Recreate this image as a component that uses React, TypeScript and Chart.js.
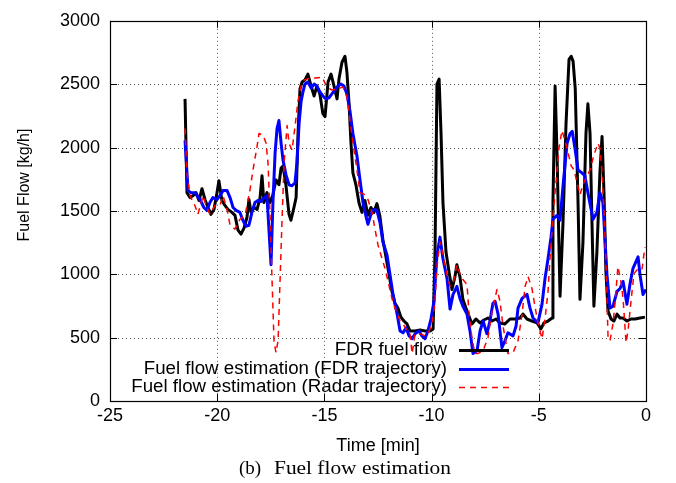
import React, { useEffect, useRef } from "react";
import { Chart, registerables } from "chart.js";

Chart.register(...registerables);

// ---- Data (time in minutes, fuel flow in kg/h) ----
const fdrTime = [
  -21.5, -21.41, -21.27, -21.13, -20.99, -20.85, -20.71, -20.57, -20.43, -20.29,
  -20.15, -20.01, -19.92, -19.78, -19.64, -19.5, -19.31, -19.17, -19.03, -18.89,
  -18.75, -18.61, -18.52, -18.42, -18.28, -18.14, -18.0, -17.91, -17.82, -17.68,
  -17.54, -17.4, -17.26, -17.12, -17.02, -16.93, -16.79, -16.65, -16.56, -16.42,
  -16.32, -16.23, -16.14, -16.04, -15.91, -15.77, -15.62, -15.48, -15.35, -15.21,
  -15.07, -14.97, -14.83, -14.69, -14.55, -14.41, -14.32, -14.18, -14.04, -13.95,
  -13.85, -13.76, -13.67, -13.53, -13.39, -13.25, -13.11, -12.97, -12.83, -12.69,
  -12.55, -12.41, -12.27, -12.13, -11.99, -11.85, -11.71, -11.57, -11.43, -11.29,
  -11.15, -11.01, -10.77, -10.54, -10.31, -10.07, -9.93, -9.84, -9.75, -9.65,
  -9.56, -9.47, -9.33, -9.19, -9.05, -8.91, -8.82, -8.68, -8.54, -8.4,
  -8.26, -8.12, -7.93, -7.74, -7.56, -7.37, -7.18, -6.99, -6.81, -6.58,
  -6.34, -6.11, -5.88, -5.74, -5.55, -5.32, -5.08, -4.9, -4.76, -4.57,
  -4.38, -4.34, -4.24, -4.15, -4.01, -3.87, -3.73, -3.59, -3.49, -3.4,
  -3.3, -3.17, -3.08, -2.94, -2.8, -2.71, -2.61, -2.52, -2.43, -2.29,
  -2.15, -2.05, -1.96, -1.87, -1.77, -1.63, -1.5, -1.35, -1.21, -1.07,
  -0.89, -0.7, -0.51, -0.28, -0.05,
];
const fdrFlow = [
  2384, 1644, 1605, 1620, 1644, 1582, 1675, 1590, 1527, 1473,
  1512, 1644, 1738, 1582, 1543, 1512, 1488, 1465, 1348, 1317,
  1364, 1450, 1590, 1488, 1527, 1512, 1605, 1777, 1566, 1644,
  1566, 1628, 1745, 1706, 1839, 1855, 1698, 1473, 1426, 1527,
  1605, 2111, 2462, 2517, 2532, 2579, 2485, 2407, 2485, 2423,
  2267, 2244, 2517, 2579, 2485, 2384, 2540, 2673, 2720, 2595,
  2345, 2034, 1800, 1706, 1566, 1488, 1582, 1465, 1527, 1488,
  1558, 1457, 1270, 1138, 1005, 865, 771, 733, 662, 631,
  608, 553, 553, 560, 553, 553, 569, 1177, 2501, 2540,
  2111, 1566, 1177, 1021, 880, 982, 1075, 982, 802, 733,
  670, 608, 647, 616, 639, 655, 631, 647, 616, 608,
  647, 647, 655, 686, 647, 631, 616, 569, 616, 631,
  655, 1566, 2485, 1956, 826, 1410, 2190, 2696, 2720, 2680,
  2462, 1566, 802, 1254, 2111, 2345, 2111, 1410, 748, 1177,
  1800, 2088, 1644, 1021, 709, 647, 631, 686, 655, 655,
  631, 647, 647, 655, 662,
];

const estFdrTime = [
  -21.5, -21.36, -21.22, -21.04, -20.8, -20.62, -20.48, -20.34, -20.2, -20.01,
  -19.87, -19.73, -19.54, -19.4, -19.26, -19.12, -18.94, -18.8, -18.66, -18.52,
  -18.38, -18.24, -18.1, -17.96, -17.82, -17.68, -17.58, -17.49, -17.4, -17.3,
  -17.21, -17.12, -17.02, -16.93, -16.79, -16.65, -16.51, -16.37, -16.28, -16.18,
  -16.09, -16.0, -15.91, -15.77, -15.62, -15.48, -15.35, -15.21, -15.07, -14.93,
  -14.79, -14.65, -14.51, -14.37, -14.23, -14.09, -13.95, -13.81, -13.67, -13.48,
  -13.34, -13.2, -13.06, -12.97, -12.83, -12.69, -12.55, -12.41, -12.27, -12.08,
  -11.94, -11.8, -11.61, -11.47, -11.33, -11.19, -11.05, -10.91, -10.77, -10.59,
  -10.45, -10.31, -10.17, -10.03, -9.89, -9.75, -9.61, -9.47, -9.28, -9.14,
  -9.0, -8.82, -8.68, -8.54, -8.35, -8.21, -8.07, -7.88, -7.74, -7.6,
  -7.42, -7.28, -7.14, -7.04, -6.9, -6.72, -6.58, -6.44, -6.2, -6.06,
  -5.97, -5.78, -5.55, -5.41, -5.27, -5.04, -4.85, -4.71, -4.57, -4.43,
  -4.34, -4.15, -4.01, -3.87, -3.68, -3.54, -3.44, -3.3, -3.17, -2.99,
  -2.85, -2.71, -2.47, -2.29, -2.15, -2.01, -1.82, -1.68, -1.54, -1.35,
  -1.21, -1.07, -0.89, -0.75, -0.61, -0.37, -0.28, -0.14, 0.0,
];
const estFdrFlow = [
  2057, 1660, 1644, 1644, 1590, 1527, 1504, 1566, 1605, 1590,
  1620, 1660, 1660, 1605, 1527, 1504, 1488, 1426, 1379, 1387,
  1488, 1566, 1582, 1574, 1605, 1620, 1332, 1075, 1566, 1956,
  2150, 2213, 2034, 1901, 1784, 1706, 1698, 1722, 1878, 2190,
  2361, 2439, 2501, 2517, 2470, 2501, 2485, 2439, 2407, 2384,
  2392, 2423, 2454, 2485, 2501, 2485, 2423, 2291, 2111, 1932,
  1745, 1566, 1457, 1395, 1473, 1512, 1504, 1410, 1254, 1153,
  997, 841, 686, 553, 538, 577, 514, 491, 530, 553,
  514, 491, 553, 647, 787, 1153, 1293, 1122, 966, 725,
  841, 904, 810, 748, 686, 553, 374, 397, 553, 631,
  530, 631, 771, 787, 686, 421, 475, 538, 514, 592,
  733, 810, 841, 733, 655, 616, 764, 966, 1122, 1293,
  1434, 1465, 1426, 1698, 2034, 2111, 2127, 1979, 1823, 1800,
  1777, 1644, 1434, 1488, 1644, 1566, 997, 733, 748, 865,
  888, 943, 764, 920, 1044, 1137, 997, 841, 880,
];

const estRadarTime = [
  -21.5, -21.41, -21.27, -21.04, -20.9, -20.66, -20.48, -20.34, -20.1, -19.87,
  -19.73, -19.54, -19.4, -19.17, -18.94, -18.7, -18.47, -18.33, -18.14, -18.05,
  -17.86, -17.72, -17.63, -17.54, -17.44, -17.35, -17.26, -17.16, -17.07, -16.98,
  -16.88, -16.74, -16.65, -16.51, -16.37, -16.23, -16.09, -15.95, -15.67, -15.39,
  -15.11, -14.88, -14.65, -14.41, -14.13, -13.95, -13.81, -13.67, -13.48, -13.34,
  -13.11, -12.97, -12.78, -12.64, -12.5, -12.31, -12.17, -12.03, -11.85, -11.71,
  -11.47, -11.33, -11.15, -11.01, -10.91, -10.77, -10.54, -10.31, -10.17, -9.98,
  -9.84, -9.75, -9.61, -9.47, -9.28, -9.14, -9.0, -8.82, -8.68, -8.54,
  -8.35, -8.26, -8.12, -7.98, -7.84, -7.6, -7.37, -7.18, -6.95, -6.81,
  -6.67, -6.44, -6.2, -5.97, -5.78, -5.64, -5.5, -5.32, -5.18, -5.04,
  -4.85, -4.71, -4.57, -4.48, -4.34, -4.2, -4.06, -3.92, -3.78, -3.63,
  -3.49, -3.35, -3.22, -3.08, -2.94, -2.75, -2.61, -2.43, -2.24, -2.15,
  -2.05, -1.96, -1.87, -1.77, -1.68, -1.54, -1.45, -1.31, -1.17, -1.07,
  -0.93, -0.84, -0.7, -0.56, -0.37, -0.19, -0.05,
];
const estRadarFlow = [
  2150, 1800, 1620, 1543, 1473, 1620, 1527, 1473, 1543, 1543,
  1620, 1512, 1387, 1356, 1434, 1465, 1667, 1823, 2010, 2111,
  2096, 2034, 1878, 1488, 943, 475, 382, 475, 943, 1410,
  1878, 2174, 2034, 1979, 2166, 2369, 2485, 2532, 2548, 2548,
  2556, 2477, 2454, 2462, 2477, 2400, 2213, 2034, 1823, 1644,
  1628, 1590, 1488, 1356, 1231, 1122, 1044, 943, 810, 733,
  631, 608, 553, 530, 374, 530, 530, 514, 530, 608,
  787, 1060, 1254, 1153, 997, 904, 927, 1075, 1005, 958,
  920, 709, 499, 374, 374, 397, 499, 709, 880, 787,
  592, 374, 382, 475, 686, 904, 982, 888, 748, 616,
  491, 647, 865, 1122, 1450, 1722, 1995, 2135, 2057, 1956,
  1855, 1823, 1722, 1628, 1706, 1777, 1823, 1940, 2034, 1995,
  1800, 1512, 1099, 499, 475, 608, 764, 1060, 943, 810,
  460, 553, 787, 1005, 1044, 1036, 1215,
];

const xTickValues = [-25, -20, -15, -10, -5, 0];
const yTickValues = [0, 500, 1000, 1500, 2000, 2500, 3000];
const seriesLabels = [
  "FDR fuel flow",
  "Fuel flow estimation (FDR trajectory)",
  "Fuel flow estimation (Radar trajectory)",
];
const xAxisTitle = "Time [min]";
const yAxisTitle = "Fuel Flow [kg/h]";
const captionLabel = "(b)";
const captionText = "Fuel flow estimation";

const SANS = '"Liberation Sans", Arial, Helvetica, sans-serif';
const SERIF = '"Liberation Serif", "Times New Roman", serif';

const toPoints = (xs: number[], ys: number[]) => xs.map((x, i) => ({ x, y: ys[i] }));

const styles = [
  { color: "#000000", width: 3, dash: [] as number[] },
  { color: "#0000ff", width: 3, dash: [] as number[] },
  { color: "#ff0000", width: 1.5, dash: [6, 5] },
];

const framePlugin = {
  id: "gnuplotFrame",
  beforeDatasetsDraw(chart: any) {
    const { ctx, chartArea: a, scales } = chart;
    const xs = scales.x;
    const ys = scales.y;
    ctx.save();
    ctx.strokeStyle = "#555";
    ctx.lineWidth = 1;
    ctx.setLineDash([1, 3]);
    xTickValues.forEach((t) => {
      const px = Math.round(xs.getPixelForValue(t)) + 0.5;
      if (px <= a.left + 1 || px >= a.right - 1) return;
      ctx.beginPath();
      ctx.moveTo(px, a.top);
      ctx.lineTo(px, a.bottom);
      ctx.stroke();
    });
    yTickValues.forEach((v) => {
      const py = Math.round(ys.getPixelForValue(v)) + 0.5;
      if (py <= a.top + 1 || py >= a.bottom - 1) return;
      ctx.beginPath();
      ctx.moveTo(a.left, py);
      ctx.lineTo(a.right, py);
      ctx.stroke();
    });
    ctx.restore();
  },
  afterDatasetsDraw(chart: any) {
    const { ctx, chartArea: a, scales } = chart;
    const xs = scales.x;
    const ys = scales.y;
    ctx.save();
    // frame
    ctx.setLineDash([]);
    ctx.strokeStyle = "#000";
    ctx.lineWidth = 1.2;
    ctx.strokeRect(Math.round(a.left) + 0.5, Math.round(a.top) + 0.5, Math.round(a.right - a.left), Math.round(a.bottom - a.top));
    // inward ticks
    const tl = 7;
    ctx.lineWidth = 1;
    xTickValues.forEach((t) => {
      const px = Math.round(xs.getPixelForValue(t)) + 0.5;
      ctx.beginPath();
      ctx.moveTo(px, a.bottom);
      ctx.lineTo(px, a.bottom - tl);
      ctx.moveTo(px, a.top);
      ctx.lineTo(px, a.top + tl);
      ctx.stroke();
    });
    yTickValues.forEach((v) => {
      const py = Math.round(ys.getPixelForValue(v)) + 0.5;
      ctx.beginPath();
      ctx.moveTo(a.left, py);
      ctx.lineTo(a.left + tl, py);
      ctx.moveTo(a.right, py);
      ctx.lineTo(a.right - tl, py);
      ctx.stroke();
    });
    // legend
    ctx.font = `18.7px ${SANS}`;
    ctx.fillStyle = "#000";
    ctx.textAlign = "right";
    ctx.textBaseline = "middle";
    const rowY = [350, 369, 387];
    seriesLabels.forEach((label, i) => {
      const y = rowY[i];
      ctx.fillText(label, 447, y);
      const s = styles[i];
      ctx.strokeStyle = s.color;
      ctx.lineWidth = s.width;
      ctx.setLineDash(s.dash);
      ctx.beginPath();
      ctx.moveTo(459, y + 0.5);
      ctx.lineTo(509, y + 0.5);
      ctx.stroke();
    });
    ctx.setLineDash([]);
    // axis titles
    ctx.fillStyle = "#000";
    ctx.textAlign = "center";
    ctx.textBaseline = "middle";
    ctx.font = `18px ${SANS}`;
    ctx.fillText(xAxisTitle, (a.left + a.right) / 2, 446);
    ctx.save();
    ctx.translate(25, 185);
    ctx.rotate(-Math.PI / 2);
    ctx.font = `16px ${SANS}`;
    ctx.fillText(yAxisTitle, 0, 0);
    ctx.restore();
    // caption
    ctx.font = `19px ${SERIF}`;
    ctx.textAlign = "left";
    ctx.textBaseline = "middle";
    ctx.fillText(captionLabel, 239, 469);
    const w = ctx.measureText(captionText).width;
    ctx.save();
    ctx.translate(274, 469);
    ctx.scale(177 / w, 1);
    ctx.fillText(captionText, 0, 0);
    ctx.restore();
    ctx.restore();
  },
};

export default function App() {
  const canvasRef = useRef<HTMLCanvasElement | null>(null);

  useEffect(() => {
    if (!canvasRef.current) return;
    const series = [
      { t: fdrTime, v: fdrFlow },
      { t: estFdrTime, v: estFdrFlow },
      { t: estRadarTime, v: estRadarFlow },
    ];
    const chart = new Chart(canvasRef.current, {
      type: "line",
      data: {
        datasets: series.map((s, i) => ({
          label: seriesLabels[i],
          data: toPoints(s.t, s.v),
          borderColor: styles[i].color,
          borderWidth: styles[i].width,
          borderDash: styles[i].dash,
          pointRadius: 0,
          tension: 0,
          fill: false,
          order: 3 - i,
          borderJoinStyle: "round" as const,
        })),
      },
      options: {
        responsive: false,
        animation: false,
        devicePixelRatio: 1,
        layout: { padding: { top: 16, right: 30, left: 0, bottom: 0 } },
        plugins: { legend: { display: false }, tooltip: { enabled: false } },
        scales: {
          x: {
            type: "linear",
            min: -25,
            max: 0,
            afterBuildTicks: (axis: any) => {
              axis.ticks = xTickValues.map((value) => ({ value }));
            },
            afterFit: (axis: any) => {
              axis.height = 82;
            },
            ticks: {
              color: "#000",
              font: { family: SANS, size: 18 },
              padding: 4,
              maxRotation: 0,
              autoSkip: false,
              callback: (v: any) => String(v),
            },
            grid: { display: false, drawTicks: false },
            border: { display: false },
          },
          y: {
            type: "linear",
            min: 0,
            max: 3000,
            afterBuildTicks: (axis: any) => {
              axis.ticks = yTickValues.map((value) => ({ value }));
            },
            afterFit: (axis: any) => {
              axis.width = 110;
            },
            ticks: {
              color: "#000",
              font: { family: SANS, size: 18 },
              padding: 10,
              autoSkip: false,
              callback: (v: any) => String(v),
            },
            grid: { display: false, drawTicks: false },
            border: { display: false },
          },
        },
      },
      plugins: [framePlugin],
    });
    return () => chart.destroy();
  }, []);

  return (
    <div style={{ position: "absolute", left: 0, top: 0, width: 676, height: 483, background: "#fff" }}>
      <canvas ref={canvasRef} width={676} height={483} style={{ display: "block" }} />
    </div>
  );
}
